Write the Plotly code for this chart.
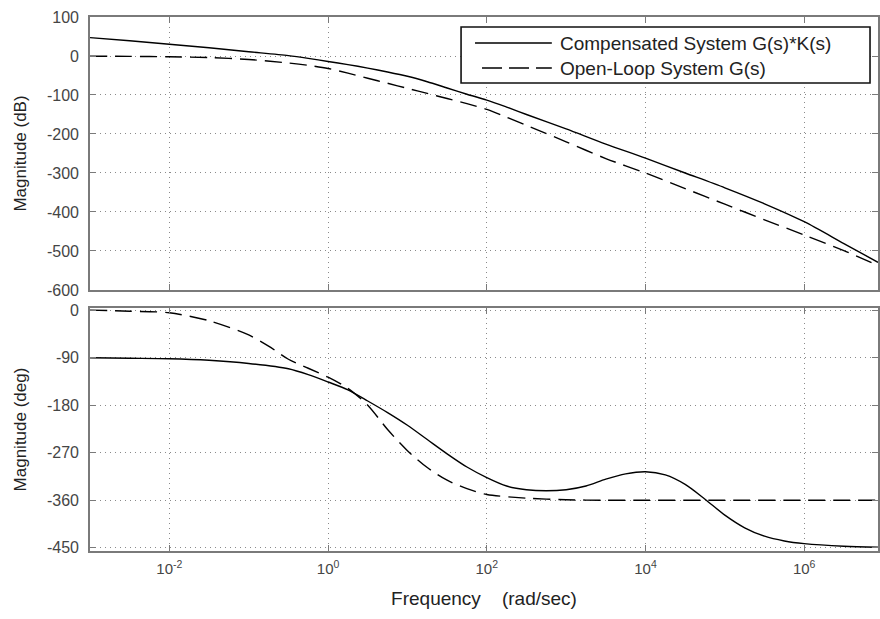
import plotly.graph_objects as go

# ---------------- data ----------------
# log10 of frequency (rad/sec) for the magnitude curves
mag_logw = [-3, -2.5, -2, -1.5, -1, -0.5, -0.25, 0, 0.25, 0.5, 0.75, 1, 1.25, 1.5,
            1.75, 2, 2.25, 2.5, 3, 3.5, 4, 4.5, 5, 5.5, 6, 6.5, 6.93]
mag_comp_db = [47, 39, 30, 21, 11, 1, -6, -14, -22, -31, -41, -52, -66, -82,
               -98, -113, -131, -150, -187, -226, -262, -300, -338, -379, -425, -481, -529]
mag_open_db = [-0.5, -1, -2, -4, -9, -18, -24, -32, -44, -57, -70, -83, -96, -109,
               -122, -137, -157, -178, -220, -263, -300, -340, -380, -420, -459, -499, -537]

# log10 of frequency for the phase curves
ph_comp_logw = [-3, -2.5, -2, -1.5, -1, -0.5, -0.25, 0, 0.25, 0.5, 0.75, 1, 1.25,
                1.5, 1.75, 2, 2.25, 2.5, 2.75, 3, 3.25, 3.5, 3.75, 4, 4.25, 4.5,
                4.75, 5, 5.25, 5.5, 5.75, 6, 6.5, 6.93]
ph_comp_deg = [-90, -91, -92, -95, -101, -111, -122, -136, -151, -172, -194, -218,
               -245, -272, -297, -317, -333, -340, -342, -340, -333, -320, -310,
               -306, -312, -330, -358, -388, -412, -428, -437, -442, -447, -449]

ph_open_logw = [-3, -2.5, -2, -1.5, -1, -0.75, -0.5, -0.25, 0, 0.25, 0.5, 0.75, 1,
                1.25, 1.5, 1.75, 2, 2.5, 3, 3.5, 4, 5, 6, 6.93]
ph_open_deg = [0, -2, -5, -20, -47, -68, -93, -110, -127, -148, -180, -226, -266,
               -298, -322, -338, -349, -356, -359, -360, -360, -360, -360, -360]

freq_tickvals = [1e-2, 1e0, 1e2, 1e4, 1e6]
freq_ticktext = ["10<sup>-2</sup>", "10<sup>0</sup>", "10<sup>2</sup>",
                 "10<sup>4</sup>", "10<sup>6</sup>"]
mag_tickvals = [100, 0, -100, -200, -300, -400, -500, -600]
mag_ticktext = ["100", "0", "-100", "-200", "-300", "-400", "-500", "-600"]
phase_tickvals = [0, -90, -180, -270, -360, -450]
phase_ticktext = ["0", "-90", "-180", "-270", "-360", "-450"]

legend_labels = ["Compensated System G(s)*K(s)", "Open-Loop System G(s)"]

# ---------------- figure ----------------
def w(logs):
    return [10 ** v for v in logs]

FONT = "Liberation Sans, Arial, Helvetica, sans-serif"
AX_COL = "#7a7a7a"
GRID_COL = "#8a8a8a"
TICK_FONT = dict(family=FONT, size=16, color="#454545")
DASH = "17px,8px"
LINE = dict(color="black", width=1.4, shape="spline", smoothing=0.8)

fig = go.Figure()
fig.add_trace(go.Scatter(x=w(mag_logw), y=mag_comp_db, mode="lines", line=LINE,
                         xaxis="x", yaxis="y", showlegend=False, name=legend_labels[0]))
fig.add_trace(go.Scatter(x=w(mag_logw), y=mag_open_db, mode="lines", line=dict(LINE, dash=DASH),
                         xaxis="x", yaxis="y", showlegend=False, name=legend_labels[1]))
fig.add_trace(go.Scatter(x=w(ph_comp_logw), y=ph_comp_deg, mode="lines", line=LINE,
                         xaxis="x2", yaxis="y2", showlegend=False, name=legend_labels[0]))
fig.add_trace(go.Scatter(x=w(ph_open_logw), y=ph_open_deg, mode="lines", line=dict(LINE, dash=DASH),
                         xaxis="x2", yaxis="y2", showlegend=False, name=legend_labels[1]))

common_axis = dict(showline=True, linecolor=AX_COL, linewidth=1.6, mirror="ticks",
                   ticks="inside", ticklen=6, tickcolor=AX_COL, tickwidth=1.2,
                   showgrid=True, gridcolor=GRID_COL, griddash="1px,4px", gridwidth=1,
                   zeroline=False, tickfont=TICK_FONT)

x_common = dict(common_axis, type="log", range=[-3.0, 6.93],
                tickvals=freq_tickvals, ticktext=freq_ticktext)

fig.update_layout(
    width=880, height=619,
    margin=dict(l=90, r=0, t=17, b=68),
    paper_bgcolor="white", plot_bgcolor="white",
    font=dict(family=FONT, color="#222222"),
    xaxis=dict(x_common, anchor="y", showticklabels=False, domain=[0, 1]),
    xaxis2=dict(x_common, anchor="y2", domain=[0, 1], matches="x",
                ticklabelstandoff=3, tickfont=dict(family=FONT, size=15, color="#454545"),
                title=dict(text="Frequency\u00a0\u00a0\u00a0 (rad/sec)",
                           font=dict(family=FONT, size=19, color="#222222"),
                           standoff=16)),
    yaxis=dict(common_axis, domain=[0.4888, 1], range=[-600, 100],
               tickvals=mag_tickvals, ticktext=mag_ticktext, ticklabelstandoff=6,
               title=dict(text="Magnitude (dB)",
                          font=dict(family=FONT, size=17, color="#222222"),
                          standoff=16)),
    yaxis2=dict(common_axis, domain=[0, 0.455], range=[-456, 4],
                tickvals=phase_tickvals, ticktext=phase_ticktext, ticklabelstandoff=6,
                title=dict(text="Magnitude (deg)",
                           font=dict(family=FONT, size=17, color="#222222"),
                           standoff=16)),
)

# ---- MATLAB-style legend box drawn in paper coordinates ----
def px_to_paper(px, py):
    return (px - 90) / 790.0, (551 - py) / 534.0

bx0, by0 = px_to_paper(462, 83)
bx1, by1 = px_to_paper(872, 27)
fig.add_shape(type="rect", xref="paper", yref="paper", x0=bx0, y0=by0, x1=bx1, y1=by1,
              line=dict(color="#111111", width=1.6), fillcolor="white", layer="above")
row_y = [43, 68]
line_x0 = [476, 483]
dashes = ["solid", "20px,7px"]
for i, label in enumerate(legend_labels):
    lx0, ly = px_to_paper(line_x0[i], row_y[i])
    lx1, _ = px_to_paper(553, row_y[i])
    fig.add_shape(type="line", xref="paper", yref="paper", x0=lx0, y0=ly, x1=lx1, y1=ly,
                  line=dict(color="black", width=1.4, dash=dashes[i]), layer="above")
    tx, _ = px_to_paper(559, row_y[i])
    fig.add_annotation(x=tx, y=ly, xref="paper", yref="paper", text=label,
                       showarrow=False, xanchor="left", yanchor="middle",
                       font=dict(family=FONT, size=19, color="#222222"))

fig.write_html("out.html")
